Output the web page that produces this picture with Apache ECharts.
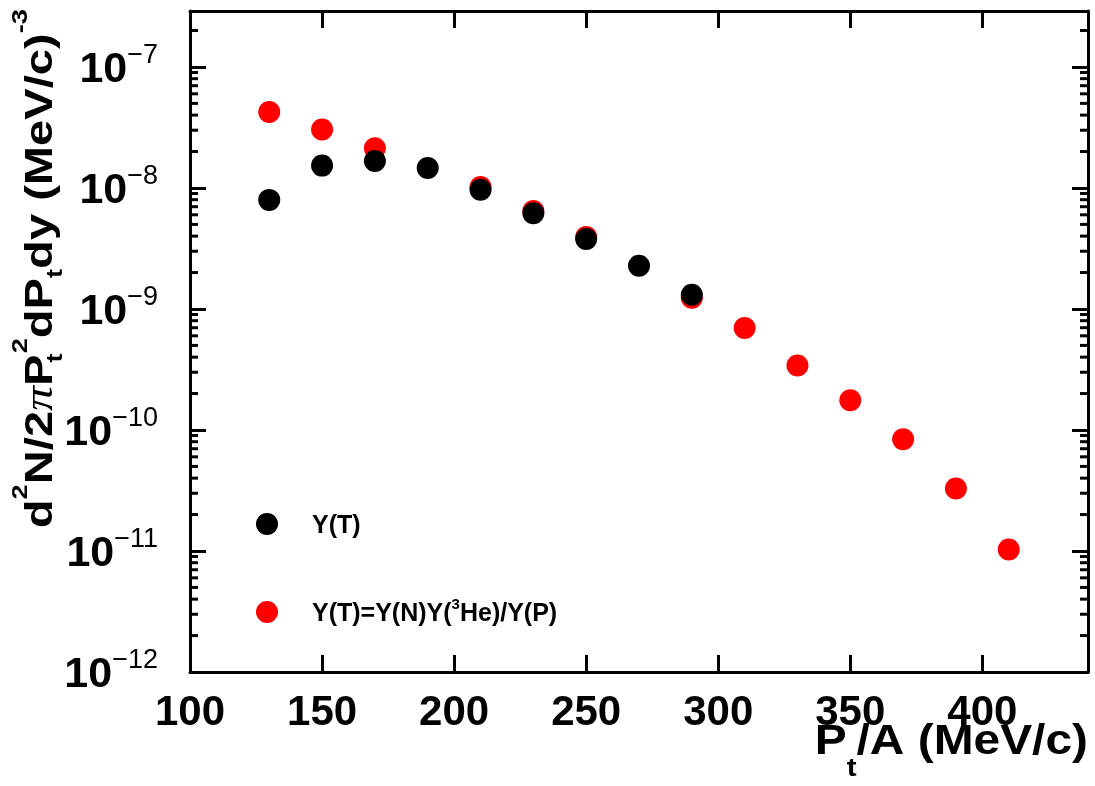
<!DOCTYPE html>
<html><head><meta charset="utf-8">
<script src="https://cdn.jsdelivr.net/npm/echarts@6/dist/echarts.min.js"></script>
<style>html,body{margin:0;padding:0;background:#fff}#main{width:1095px;height:786px}</style>
</head><body><div id="main"></div>
<script>
// ---- data ----
const ptBlack = [130, 150, 170, 190, 210, 230, 250, 270, 290];
const yieldBlack = [7.97e-9, 1.53e-8, 1.67e-8, 1.46e-8, 9.65e-9, 6.18e-9, 3.79e-9, 2.28e-9, 1.31e-9];
const ptRed = [130, 150, 170, 210, 230, 250, 290, 310, 330, 350, 370, 390, 410];
const yieldRed = [4.24e-8, 3.04e-8, 2.13e-8, 1.02e-8, 6.46e-9, 3.94e-9, 1.24e-9, 6.95e-10, 3.41e-10, 1.76e-10, 8.38e-11, 3.29e-11, 1.03e-11];
const nameBlack = 'Y(T)';
const nameRed = 'Y(T)=Y(N)Y(³He)/Y(P)';
const xTickLabels = ['100', '150', '200', '250', '300', '350', '400'];
const yDecadeExponents = [-12, -11, -10, -9, -8, -7];

// axis ranges
const X_MIN = 100, X_MAX = 440, X_STEP = 50;
const Y_MIN = 1e-12, Y_MAX = 2.9e-7;
// values are drawn in units of 1e-12 on the log axis (labels show true exponents)
const Y_UNIT = 1e-12;
const toAxis = v => v / Y_UNIT;
const EXP_OFFSET = Math.round(Math.log10(Y_UNIT));

// log minor tick positions (2..9 x 10^k)
const yMinorTicks = [];
for (let k = 0; k < yDecadeExponents.length; k++) {
  for (let m = 2; m <= 9; m++) {
    const v = m * Math.pow(10, k);
    if (v < toAxis(Y_MAX)) yMinorTicks.push(v);
  }
}

const FONT = "'Liberation Sans', Arial, Helvetica, sans-serif";
const chart = echarts.init(document.getElementById('main'), null, {renderer: 'canvas'});

const axisLineStyle = {color: '#000', width: 3};
const yLabelFormatter = function (v) {
  const lv = Math.log10(v);
  if (Math.abs(lv - Math.round(lv)) > 1e-6) return '';
  const e = Math.round(lv) + EXP_OFFSET;
  if (yDecadeExponents.indexOf(e) < 0) return '';
  return '{b|10}{e|\u2212' + (-e) + '}';
};
const legendFormatter = function (name) {
  return name.split('³').map(s => '{b|' + s + '}').join('{s|3}');
};
const legendText = {
  fontSize: 25, fontWeight: 'bold', fontFamily: FONT, color: '#000', padding: [0, 0, 0, 29],
  rich: {
    b: {fontSize: 25, fontWeight: 'bold', fontFamily: FONT, color: '#000', verticalAlign: 'top', padding: [5, 0, 0, 0]},
    s: {fontSize: 15, fontWeight: 'bold', fontFamily: FONT, color: '#000', verticalAlign: 'top'}
  }
};

const option = {
  animation: false,
  backgroundColor: '#fff',
  grid: {left: 190, right: 7, top: 11, bottom: 114, containLabel: false},
  xAxis: [{
    type: 'value', min: X_MIN, max: X_MAX, interval: X_STEP, position: 'bottom',
    axisLine: {show: true, onZero: false, lineStyle: axisLineStyle},
    axisTick: {show: true, inside: true, length: 17, lineStyle: {color: '#000', width: 3}},
    splitLine: {show: false},
    axisLabel: {
      show: true, margin: 20, showMaxLabel: false, showMinLabel: true,
      fontSize: 42, fontWeight: 'bold', fontFamily: FONT, color: '#000', lineHeight: 42,
      formatter: v => (xTickLabels.indexOf(String(v)) >= 0 ? String(v) : '')
    }
  }, {
    type: 'value', min: X_MIN, max: X_MAX, interval: X_STEP, position: 'top',
    axisLine: {show: true, onZero: false, lineStyle: axisLineStyle},
    axisTick: {show: true, inside: true, length: 17, lineStyle: {color: '#000', width: 3}},
    splitLine: {show: false}, axisLabel: {show: false}
  }],
  yAxis: [{
    type: 'log', logBase: 10, min: toAxis(Y_MIN), max: toAxis(Y_MAX), position: 'left',
    axisLine: {show: true, onZero: false, lineStyle: axisLineStyle},
    axisTick: {show: true, inside: true, length: 16, lineStyle: {color: '#000', width: 3}},
    splitLine: {show: false},
    axisLabel: {
      show: true, margin: 32, showMaxLabel: false, color: '#000',
      formatter: yLabelFormatter,
      rich: {
        b: {fontSize: 43, fontWeight: 'bold', fontFamily: FONT, color: '#000', verticalAlign: 'top', padding: [7, 0, 0, 0]},
        e: {fontSize: 27, fontFamily: FONT, color: '#000', verticalAlign: 'top'}
      }
    }
  }, {
    type: 'log', logBase: 10, min: toAxis(Y_MIN), max: toAxis(Y_MAX), position: 'right',
    axisLine: {show: true, onZero: false, lineStyle: axisLineStyle},
    axisTick: {show: true, inside: true, length: 16, lineStyle: {color: '#000', width: 3}},
    splitLine: {show: false}, axisLabel: {show: false}
  }],
  legend: [{
    data: [nameBlack], left: 256, top: 513, padding: 0, orient: 'vertical',
    icon: 'circle', itemWidth: 22, itemHeight: 22, selectedMode: false,
    formatter: legendFormatter, textStyle: legendText
  }, {
    data: [nameRed], left: 256, top: 597, padding: 0, orient: 'vertical',
    icon: 'circle', itemWidth: 22, itemHeight: 22, selectedMode: false,
    formatter: legendFormatter, textStyle: legendText
  }],
  graphic: [{
    type: 'text', x: 10, y: 9, rotation: Math.PI / 2, scaleX: 1.24, scaleY: 1,
    style: {
      text: '{b|d}{u|2}{b|N/2}{p|\u03c0}{b|P}{t|t}{u|2}{b|dP}{s|t}{b|dy (MeV/c)}{u|-3}',
      align: 'right', verticalAlign: 'top', textAlign: 'right', textVerticalAlign: 'top', fill: '#000',
      rich: {
        b: {fontSize: 38, fontWeight: 'bold', fontFamily: FONT, fill: '#000', verticalAlign: 'top', padding: [13, 0, 0, 0]},
        p: {fontSize: 40, fontStyle: 'italic', fontFamily: "'Liberation Serif', serif", fill: '#000', verticalAlign: 'top', padding: [11, 0, 0, 0]},
        u: {fontSize: 22, fontWeight: 'bold', fontFamily: FONT, fill: '#000', verticalAlign: 'top'},
        t: {fontSize: 22, fontWeight: 'bold', fontFamily: FONT, fill: '#000', verticalAlign: 'top', padding: [35, 0, 0, 0], width: 1},
        s: {fontSize: 22, fontWeight: 'bold', fontFamily: FONT, fill: '#000', verticalAlign: 'top', padding: [35, 0, 0, 0]}
      }
    }
  }, {
    type: 'text', x: 1088, y: 721, scaleX: 1.14, scaleY: 1,
    style: {
      text: '{b|P}{s|t}{b|/A (MeV/c)}',
      align: 'right', verticalAlign: 'top', textAlign: 'right', textVerticalAlign: 'top', fill: '#000',
      rich: {
        b: {fontSize: 42, fontWeight: 'bold', fontFamily: FONT, fill: '#000', verticalAlign: 'top'},
        s: {fontSize: 26, fontWeight: 'bold', fontFamily: FONT, fill: '#000', verticalAlign: 'top', padding: [35, 0, 0, 0]}
      }
    }
  }],
  series: [{
    name: nameRed, type: 'scatter', symbol: 'circle', symbolSize: 22,
    itemStyle: {color: '#ff0000', opacity: 1},
    data: ptRed.map((x, i) => [x, toAxis(yieldRed[i])]), z: 3
  }, {
    name: nameBlack, type: 'scatter', symbol: 'circle', symbolSize: 22,
    itemStyle: {color: '#000000', opacity: 1},
    data: ptBlack.map((x, i) => [x, toAxis(yieldBlack[i])]), z: 4
  }, {
    name: 'yMinorTicks', type: 'custom', coordinateSystem: 'cartesian2d', silent: true, z: 6, clip: false,
    data: yMinorTicks.map(v => [X_MIN, v]), encode: {x: 0, y: 1},
    renderItem: function (params, api) {
      const cs = params.coordSys;
      const p = api.coord([api.value(0), api.value(1)]);
      const st = {stroke: '#000', lineWidth: 3};
      return {type: 'group', children: [
        {type: 'line', shape: {x1: cs.x, y1: p[1], x2: cs.x + 8, y2: p[1]}, style: st},
        {type: 'line', shape: {x1: cs.x + cs.width - 8, y1: p[1], x2: cs.x + cs.width, y2: p[1]}, style: st}
      ]};
    }
  }]
};
chart.setOption(option);
</script></body></html>
